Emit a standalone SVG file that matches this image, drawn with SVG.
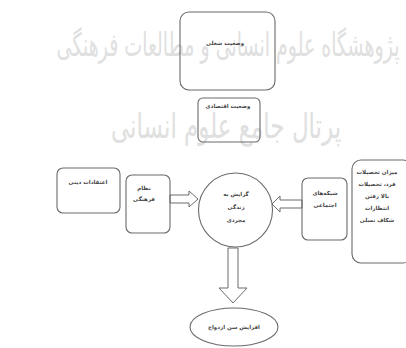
<svg xmlns="http://www.w3.org/2000/svg" width="406" height="348" viewBox="0 0 406 348">
<style>
.wm{font-family:"DejaVu Sans",sans-serif;fill:#e0e0e0;text-anchor:middle;direction:rtl}
.box{fill:none;stroke:#6a6a6a;stroke-width:1.1}
.arr{fill:#fff;stroke:#6a6a6a;stroke-width:1}
.t{font-family:"DejaVu Sans",sans-serif;font-size:5.5px;font-weight:bold;fill:#444;text-anchor:middle;direction:rtl}
</style>
<rect width="406" height="348" fill="#fff"/>
<g id="watermark">
<text class="wm" transform="translate(228,56) scale(1,1.7)" font-size="19">پژوهشگاه علوم انسانی و مطالعات فرهنگی</text>
<text class="wm" transform="translate(226,138) scale(1,1.5)" font-size="23">پرتال جامع علوم انسانی</text>
</g>
<g id="connectors">
<polygon class="arr" points="170,195 189,195 189,191 198,199 189,207 189,203 170,203"/>
<polygon class="arr" points="302,200 280,200 280,196 272,204 280,212 280,208 302,208"/>
<polygon class="arr" points="228,248 238,248 238,288 247,288 233,303 219,288 228,288"/>
</g>
<g id="job">
<rect class="box" x="180" y="12" width="95" height="78" rx="9"/>
<text class="t" x="225" y="45">وضعیت شغلی</text>
</g>
<g id="economic">
<rect class="box" x="198" y="98" width="62" height="44" rx="5"/>
<text class="t" x="228" y="108">وضعیت اقتصادی</text>
</g>
<g id="religious">
<rect class="box" x="57" y="168" width="63" height="45" rx="6"/>
<text class="t" x="88" y="184">اعتقادات دینی</text>
</g>
<g id="cultural">
<rect class="box" x="126" y="175" width="44" height="58" rx="6"/>
<text class="t" x="144" y="190">نظام</text>
<text class="t" x="144" y="201">فرهنگی</text>
</g>
<g id="center">
<circle class="box" cx="235.5" cy="210" r="37"/>
<text class="t" x="236" y="196">گرایش به</text>
<text class="t" x="236" y="209">زندگی</text>
<text class="t" x="236" y="222">مجردی</text>
</g>
<g id="social">
<rect class="box" x="302" y="178" width="45" height="62" rx="6"/>
<text class="t" x="325" y="195">شبکه‌های</text>
<text class="t" x="325" y="207">اجتماعی</text>
</g>
<g id="education">
<rect class="box" x="352" y="160" width="60" height="103" rx="9"/>
<text class="t" x="377" y="174">میزان تحصیلات</text>
<text class="t" x="377" y="186">فرد، تحصیلات</text>
<text class="t" x="377" y="198">بالا رفتن</text>
<text class="t" x="377" y="210">انتظارات</text>
<text class="t" x="377" y="222">شکاف نسلی</text>
</g>
<g id="outcome">
<ellipse class="box" cx="234" cy="327" rx="44" ry="19"/>
<text class="t" x="234" y="329">افزایش سن ازدواج</text>
</g>
</svg>
